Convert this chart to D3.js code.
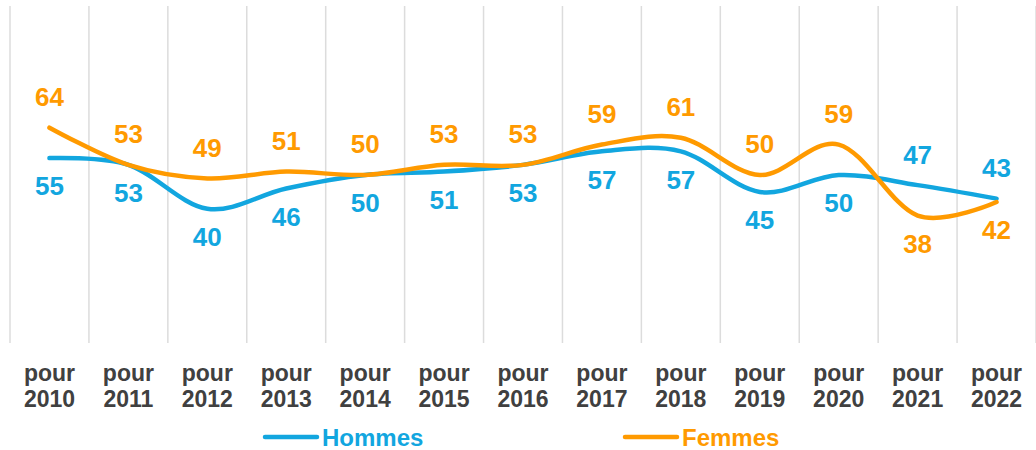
<!DOCTYPE html>
<html>
<head>
<meta charset="utf-8">
<script src="https://cdn.jsdelivr.net/npm/d3@7"></script>
<style>
body { margin: 0; background: #fff; }
svg { display: block; font-family: "Liberation Sans", Arial, sans-serif; }
</style>
</head>
<body>
<svg width="1036" height="450"></svg>
<script>
var years = ["2010","2011","2012","2013","2014","2015","2016","2017","2018","2019","2020","2021","2022"];
var hommes = [55, 53, 40, 46, 50, 51, 53, 57, 57, 45, 50, 47, 43];
var femmes = [64, 53, 49, 51, 50, 53, 53, 59, 61, 50, 59, 38, 42];
var seriesNames = ["Hommes", "Femmes"];

var svg = d3.select("svg");
var blue = "#12A6DF";
var orange = "#FF9A00";

var margin = {top: 6, right: 0, bottom: 106, left: 10};
var width = 1036 - margin.left - margin.right;
var height = 450 - margin.top - margin.bottom;

var xScale = d3.scaleBand()
  .domain(years)
  .range([margin.left, margin.left + width])
  .padding(0);

var yScale = d3.scaleLinear()
  .domain([0, 100])
  .range([margin.top + height, margin.top]);

// vertical gridlines between categories
var bounds = years.map(function(d) { return xScale(d); });
bounds.push(margin.left + width);
svg.append("g")
  .selectAll("line")
  .data(bounds)
  .enter()
  .append("line")
  .attr("x1", function(d) { return d; })
  .attr("x2", function(d) { return d; })
  .attr("y1", margin.top)
  .attr("y2", margin.top + height - 1)
  .attr("stroke", "#DCDCDC")
  .attr("stroke-width", 1.5);

var series = [
  {name: seriesNames[0], values: hommes, color: blue},
  {name: seriesNames[1], values: femmes, color: orange}
];

var line = d3.line()
  .x(function(d, i) { return xScale(years[i]) + xScale.bandwidth() / 2; })
  .y(function(d) { return yScale(d); })
  .curve(d3.curveCatmullRom.alpha(0));

svg.append("g")
  .selectAll("path")
  .data(series)
  .enter()
  .append("path")
  .attr("d", function(s) { return line(s.values); })
  .attr("fill", "none")
  .attr("stroke", function(s) { return s.color; })
  .attr("stroke-width", 4.5)
  .attr("stroke-linecap", "round")
  .attr("stroke-linejoin", "round");

// data labels: higher series above, lower below
series.forEach(function(s, k) {
  var other = series[1 - k].values;
  svg.append("g")
    .selectAll("text")
    .data(s.values)
    .enter()
    .append("text")
    .attr("x", function(d, i) { return xScale(years[i]) + xScale.bandwidth() / 2; })
    .attr("y", function(d, i) {
      var above = d > other[i] || (d == other[i] && s.name == "Femmes");
      return yScale(d) + (above ? -31 : 28);
    })
    .attr("dy", "0.36em")
    .attr("text-anchor", "middle")
    .attr("font-size", "26px")
    .attr("font-weight", "bold")
    .attr("fill", s.color)
    .text(function(d) { return d; });
});

// category labels
var xl = svg.append("g")
  .selectAll("text")
  .data(years)
  .enter()
  .append("text")
  .attr("x", function(d) { return xScale(d) + xScale.bandwidth() / 2; })
  .attr("text-anchor", "middle")
  .attr("font-size", "23px")
  .attr("font-weight", "bold")
  .attr("fill", "#404040");
xl.append("tspan")
  .attr("x", function(d) { return xScale(d) + xScale.bandwidth() / 2; })
  .attr("y", 381)
  .text("pour");
xl.append("tspan")
  .attr("x", function(d) { return xScale(d) + xScale.bandwidth() / 2; })
  .attr("y", 407)
  .text(function(d) { return d; });

// legend
var legendX = [263, 623];
var legend = svg.append("g")
  .selectAll("g")
  .data(series)
  .enter()
  .append("g")
  .attr("transform", function(s, i) { return "translate(" + legendX[i] + ",437)"; });
legend.append("line")
  .attr("x1", 2).attr("x2", 54)
  .attr("y1", 0).attr("y2", 0)
  .attr("stroke", function(s) { return s.color; })
  .attr("stroke-width", 4.5)
  .attr("stroke-linecap", "round");
legend.append("text")
  .attr("x", 59)
  .attr("y", 0)
  .attr("dy", "0.36em")
  .attr("font-size", "24px")
  .attr("font-weight", "bold")
  .attr("fill", function(s) { return s.color; })
  .text(function(s) { return s.name; });
</script>
</body>
</html>
